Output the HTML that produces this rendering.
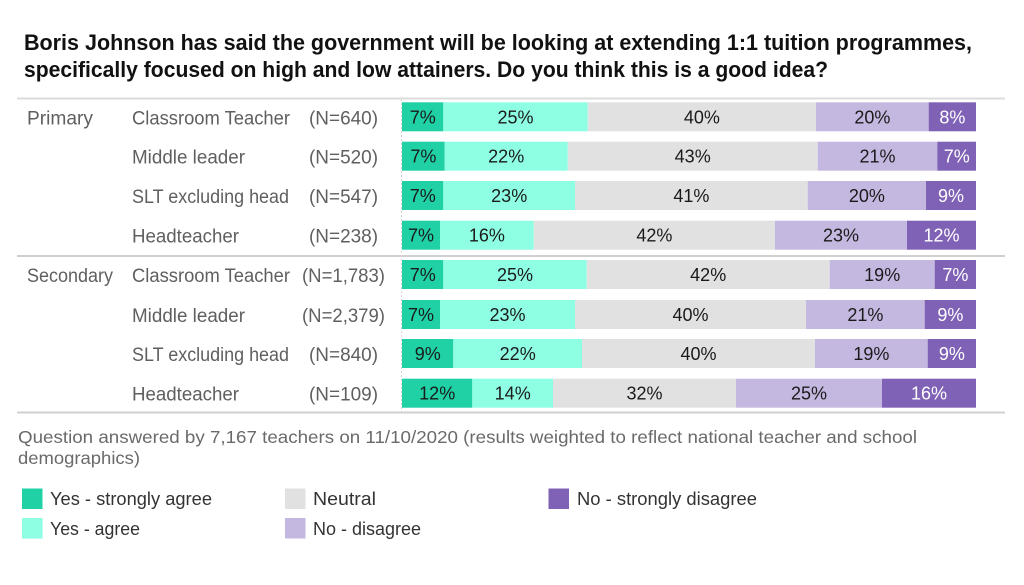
<!DOCTYPE html>
<html>
<head>
<meta charset="utf-8">
<style>
html,body{margin:0;padding:0;background:#fff;}
svg{display:block;}
text{font-family:"Liberation Sans",sans-serif;}
.lbl{font-size:19px;fill:#5f5f5f;}
.v{font-size:18px;fill:#1a1a1a;text-anchor:middle;}
.w{font-size:18px;fill:#ffffff;text-anchor:middle;}
.n{font-size:19px;fill:#5f5f5f;text-anchor:middle;}
.lg{font-size:18px;fill:#333;}
</style>
</head>
<body>
<svg width="1024" height="585" viewBox="0 0 1024 585" xmlns="http://www.w3.org/2000/svg">
<rect width="1024" height="585" fill="#fff"/>
<!-- Title -->
<text x="24" y="50" font-size="22" font-weight="bold" fill="#111" textLength="948" lengthAdjust="spacingAndGlyphs">Boris Johnson has said the government will be looking at extending 1:1 tuition programmes,</text>
<text x="24" y="77" font-size="22" font-weight="bold" fill="#111" textLength="804" lengthAdjust="spacingAndGlyphs">specifically focused on high and low attainers. Do you think this is a good idea?</text>

<!-- grid lines -->
<line x1="17" y1="98.5" x2="1005" y2="98.5" stroke="#dcdcdc" stroke-width="2"/>
<line x1="17" y1="256" x2="1005" y2="256" stroke="#d0d0d0" stroke-width="2"/>
<line x1="17" y1="412.5" x2="1005" y2="412.5" stroke="#d0d0d0" stroke-width="2"/>
<line x1="401.5" y1="99" x2="401.5" y2="412" stroke="#d6d6d6" stroke-width="1" stroke-dasharray="2,2"/>

<!-- group labels -->
<text class="lbl" x="27" y="124.3" textLength="66" lengthAdjust="spacingAndGlyphs">Primary</text>
<text class="lbl" x="27" y="282" textLength="86" lengthAdjust="spacingAndGlyphs">Secondary</text>

<!-- role labels -->
<text class="lbl" x="132" y="124.3" textLength="158" lengthAdjust="spacingAndGlyphs">Classroom Teacher</text>
<text class="lbl" x="132" y="163.7" textLength="113" lengthAdjust="spacingAndGlyphs">Middle leader</text>
<text class="lbl" x="132" y="203" textLength="157" lengthAdjust="spacingAndGlyphs">SLT excluding head</text>
<text class="lbl" x="132" y="242.7" textLength="107" lengthAdjust="spacingAndGlyphs">Headteacher</text>
<text class="lbl" x="132" y="282" textLength="158" lengthAdjust="spacingAndGlyphs">Classroom Teacher</text>
<text class="lbl" x="132" y="322" textLength="113" lengthAdjust="spacingAndGlyphs">Middle leader</text>
<text class="lbl" x="132" y="361" textLength="157" lengthAdjust="spacingAndGlyphs">SLT excluding head</text>
<text class="lbl" x="132" y="400.7" textLength="107" lengthAdjust="spacingAndGlyphs">Headteacher</text>

<!-- N labels -->
<text class="n" x="343.5" y="124.3" textLength="69" lengthAdjust="spacingAndGlyphs">(N=640)</text>
<text class="n" x="343.5" y="163.7" textLength="69" lengthAdjust="spacingAndGlyphs">(N=520)</text>
<text class="n" x="343.5" y="203" textLength="69" lengthAdjust="spacingAndGlyphs">(N=547)</text>
<text class="n" x="343.5" y="242.7" textLength="69" lengthAdjust="spacingAndGlyphs">(N=238)</text>
<text class="n" x="343.5" y="282" textLength="83" lengthAdjust="spacingAndGlyphs">(N=1,783)</text>
<text class="n" x="343.5" y="322" textLength="83" lengthAdjust="spacingAndGlyphs">(N=2,379)</text>
<text class="n" x="343.5" y="361" textLength="69" lengthAdjust="spacingAndGlyphs">(N=840)</text>
<text class="n" x="343.5" y="400.7" textLength="69" lengthAdjust="spacingAndGlyphs">(N=109)</text>

<!-- Row 1 -->
<g>
<rect x="402" y="102.3" width="41.3" height="29" fill="#1fd1a5"/>
<rect x="443.3" y="102.3" width="144.4" height="29" fill="#8effe3"/>
<rect x="587.7" y="102.3" width="228.3" height="29" fill="#e1e1e1"/>
<rect x="816" y="102.3" width="112.7" height="29" fill="#c5b8e0"/>
<rect x="928.7" y="102.3" width="47.3" height="29" fill="#7f62b6"/>
<text class="v" x="422.7" y="123.3">7%</text>
<text class="v" x="515.5" y="123.3">25%</text>
<text class="v" x="701.9" y="123.3">40%</text>
<text class="v" x="872.4" y="123.3">20%</text>
<text class="w" x="952.4" y="123.3">8%</text>
</g>
<!-- Row 2 -->
<g>
<rect x="402" y="141.7" width="42.7" height="29" fill="#1fd1a5"/>
<rect x="444.7" y="141.7" width="123" height="29" fill="#8effe3"/>
<rect x="567.7" y="141.7" width="250" height="29" fill="#e1e1e1"/>
<rect x="817.7" y="141.7" width="119.6" height="29" fill="#c5b8e0"/>
<rect x="937.3" y="141.7" width="38.7" height="29" fill="#7f62b6"/>
<text class="v" x="423.4" y="162.7">7%</text>
<text class="v" x="506.2" y="162.7">22%</text>
<text class="v" x="692.7" y="162.7">43%</text>
<text class="v" x="877.5" y="162.7">21%</text>
<text class="w" x="956.7" y="162.7">7%</text>
</g>
<!-- Row 3 -->
<g>
<rect x="402" y="181" width="41.3" height="29" fill="#1fd1a5"/>
<rect x="443.3" y="181" width="131.7" height="29" fill="#8effe3"/>
<rect x="575" y="181" width="232.7" height="29" fill="#e1e1e1"/>
<rect x="807.7" y="181" width="118.3" height="29" fill="#c5b8e0"/>
<rect x="926" y="181" width="50" height="29" fill="#7f62b6"/>
<text class="v" x="422.7" y="202">7%</text>
<text class="v" x="509.2" y="202">23%</text>
<text class="v" x="691.4" y="202">41%</text>
<text class="v" x="866.9" y="202">20%</text>
<text class="w" x="951" y="202">9%</text>
</g>
<!-- Row 4 -->
<g>
<rect x="402" y="220.7" width="38" height="29" fill="#1fd1a5"/>
<rect x="440" y="220.7" width="93.7" height="29" fill="#8effe3"/>
<rect x="533.7" y="220.7" width="241.3" height="29" fill="#e1e1e1"/>
<rect x="775" y="220.7" width="132" height="29" fill="#c5b8e0"/>
<rect x="907" y="220.7" width="69" height="29" fill="#7f62b6"/>
<text class="v" x="421" y="241.7">7%</text>
<text class="v" x="486.9" y="241.7">16%</text>
<text class="v" x="654.4" y="241.7">42%</text>
<text class="v" x="841" y="241.7">23%</text>
<text class="w" x="941.5" y="241.7">12%</text>
</g>
<!-- Row 5 -->
<g>
<rect x="402" y="260" width="41.3" height="29" fill="#1fd1a5"/>
<rect x="443.3" y="260" width="143.4" height="29" fill="#8effe3"/>
<rect x="586.7" y="260" width="243" height="29" fill="#e1e1e1"/>
<rect x="829.7" y="260" width="105" height="29" fill="#c5b8e0"/>
<rect x="934.7" y="260" width="41.3" height="29" fill="#7f62b6"/>
<text class="v" x="422.7" y="281">7%</text>
<text class="v" x="515" y="281">25%</text>
<text class="v" x="708.2" y="281">42%</text>
<text class="v" x="882.2" y="281">19%</text>
<text class="w" x="955.4" y="281">7%</text>
</g>
<!-- Row 6 -->
<g>
<rect x="402" y="300" width="38" height="29" fill="#1fd1a5"/>
<rect x="440" y="300" width="135" height="29" fill="#8effe3"/>
<rect x="575" y="300" width="231" height="29" fill="#e1e1e1"/>
<rect x="806" y="300" width="118.7" height="29" fill="#c5b8e0"/>
<rect x="924.7" y="300" width="51.3" height="29" fill="#7f62b6"/>
<text class="v" x="421" y="321">7%</text>
<text class="v" x="507.5" y="321">23%</text>
<text class="v" x="690.5" y="321">40%</text>
<text class="v" x="865.4" y="321">21%</text>
<text class="w" x="950.4" y="321">9%</text>
</g>
<!-- Row 7 -->
<g>
<rect x="402" y="339" width="51.3" height="29" fill="#1fd1a5"/>
<rect x="453.3" y="339" width="128.7" height="29" fill="#8effe3"/>
<rect x="582" y="339" width="233" height="29" fill="#e1e1e1"/>
<rect x="815" y="339" width="112.7" height="29" fill="#c5b8e0"/>
<rect x="927.7" y="339" width="48.3" height="29" fill="#7f62b6"/>
<text class="v" x="427.7" y="360">9%</text>
<text class="v" x="517.7" y="360">22%</text>
<text class="v" x="698.5" y="360">40%</text>
<text class="v" x="871.4" y="360">19%</text>
<text class="w" x="951.9" y="360">9%</text>
</g>
<!-- Row 8 -->
<g>
<rect x="402" y="378.7" width="70.3" height="29" fill="#1fd1a5"/>
<rect x="472.3" y="378.7" width="80.7" height="29" fill="#8effe3"/>
<rect x="553" y="378.7" width="183" height="29" fill="#e1e1e1"/>
<rect x="736" y="378.7" width="146" height="29" fill="#c5b8e0"/>
<rect x="882" y="378.7" width="94" height="29" fill="#7f62b6"/>
<text class="v" x="437.2" y="399.7">12%</text>
<text class="v" x="512.7" y="399.7">14%</text>
<text class="v" x="644.5" y="399.7">32%</text>
<text class="v" x="809" y="399.7">25%</text>
<text class="w" x="929" y="399.7">16%</text>
</g>

<!-- footnote -->
<text x="18" y="443" font-size="17.5" fill="#6a6a6a" textLength="899" lengthAdjust="spacingAndGlyphs">Question answered by 7,167 teachers on 11/10/2020 (results weighted to reflect national teacher and school</text>
<text x="18" y="464" font-size="17.5" fill="#6a6a6a" textLength="122" lengthAdjust="spacingAndGlyphs">demographics)</text>

<!-- legend -->
<rect x="22" y="488.5" width="20.5" height="20.5" fill="#1fd1a5"/>
<text class="lg" x="50" y="505" textLength="162" lengthAdjust="spacingAndGlyphs">Yes - strongly agree</text>
<rect x="22" y="518" width="20.5" height="20.5" fill="#8effe3"/>
<text class="lg" x="50" y="535" textLength="90" lengthAdjust="spacingAndGlyphs">Yes - agree</text>
<rect x="285" y="488.5" width="20.5" height="20.5" fill="#e1e1e1"/>
<text class="lg" x="313" y="505" textLength="63" lengthAdjust="spacingAndGlyphs">Neutral</text>
<rect x="285" y="518" width="20.5" height="20.5" fill="#c5b8e0"/>
<text class="lg" x="313" y="535" textLength="108" lengthAdjust="spacingAndGlyphs">No - disagree</text>
<rect x="548.5" y="488.5" width="20.5" height="20.5" fill="#7f62b6"/>
<text class="lg" x="577" y="505" textLength="180" lengthAdjust="spacingAndGlyphs">No - strongly disagree</text>
</svg>
</body>
</html>
